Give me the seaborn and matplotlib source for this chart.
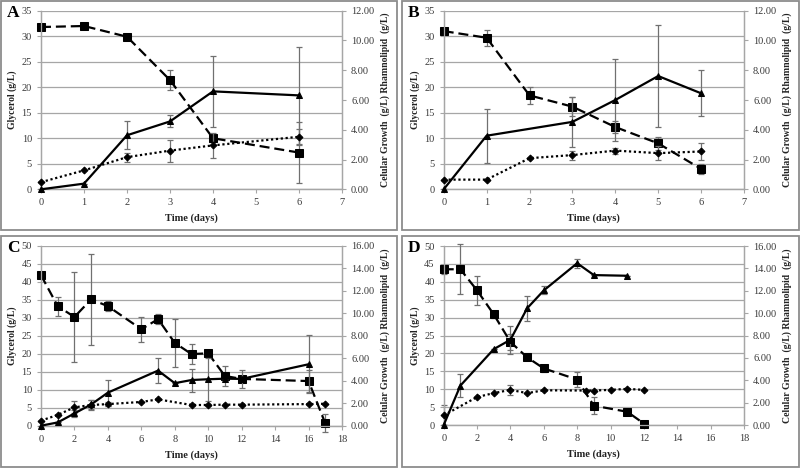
import numpy as np
import pandas as pd
import seaborn as sns
import matplotlib.pyplot as plt
from matplotlib.patches import Rectangle
from matplotlib.ticker import FormatStrFormatter, MultipleLocator

# === Panel A ===
a_gly_days = [0, 1, 2, 3, 4, 6]
a_gly = [31.8, 32.0, 29.9, 21.4, 10.0, 7.2]
a_gly_err = [0, 0, 0, 2.0, 0.8, 6.0]
a_tri_days = [0, 1, 2, 3, 4, 6]
a_tri = [0.0, 0.38, 3.63, 4.56, 6.58, 6.31]
a_tri_err = [0, 0, 0.93, 0.40, 2.40, 3.25]
a_dia_days = [0, 1, 2, 3, 4, 6]
a_dia = [0.48, 1.27, 2.16, 2.60, 2.95, 3.53]
a_dia_err = [0, 0, 0.30, 0.74, 0.84, 0.55]

# === Panel B ===
b_gly_days = [0, 1, 2, 3, 4, 5, 6]
b_gly = [31.0, 29.7, 18.4, 16.2, 12.2, 9.0, 4.0]
b_gly_err = [0.5, 1.6, 1.7, 1.9, 1.2, 1.3, 1.0]
b_tri_days = [0, 1, 3, 4, 5, 6]
b_tri = [0.0, 3.60, 4.53, 6.00, 7.61, 6.45]
b_tri_err = [0, 1.82, 1.68, 2.78, 3.43, 1.54]
b_dia_days = [0, 1, 2, 3, 4, 5, 6]
b_dia = [0.65, 0.65, 2.09, 2.30, 2.60, 2.43, 2.54]
b_dia_err = [0, 0, 0, 0.30, 0.20, 0.45, 0.60]

# === Panel C ===
c_gly_days = [0, 1, 2, 3, 4, 6, 7, 8, 9, 10, 11, 12, 16, 17]
c_gly = [41.8, 33.2, 30.2, 35.1, 33.2, 26.8, 29.6, 23.0, 19.9, 20.1, 13.8, 13.0, 12.4, 0.65]
c_gly_err = [0, 2.6, 12.6, 12.6, 1.3, 3.5, 1.3, 6.6, 2.85, 0, 2.7, 0, 3.0, 2.5]
c_tri_days = [0, 1, 2, 3, 4, 7, 8, 9, 10, 11, 12, 16]
c_tri = [0.0, 0.29, 1.09, 1.89, 2.94, 4.90, 3.78, 4.06, 4.13, 4.18, 4.16, 5.46]
c_tri_err = [0, 0, 0.30, 0.40, 1.15, 1.12, 0, 1.02, 1.90, 0, 0.77, 2.56]
c_dia_days = [0, 1, 2, 3, 4, 6, 7, 9, 10, 11, 12, 16, 17]
c_dia = [0.45, 0.96, 1.63, 1.84, 1.92, 2.11, 2.34, 1.84, 1.84, 1.87, 1.87, 1.92, 1.95]
c_dia_err = [0, 0, 0.54, 0.42, 0.16, 0, 0, 0.10, 0.10, 0, 0.10, 0, 0]

# === Panel D ===
d_gly_days = [0, 1, 2, 3, 4, 5, 6, 8, 9, 11, 12]
d_gly = [43.5, 43.5, 37.6, 30.9, 23.2, 18.9, 15.8, 12.7, 5.4, 3.7, 0.4]
d_gly_err = [1.2, 7.0, 4.0, 1.0, 2.3, 0, 1.0, 2.2, 2.3, 0, 0]
d_tri_days = [0, 1, 3, 4, 5, 6, 8, 9, 11]
d_tri = [0.0, 3.52, 6.78, 7.62, 10.43, 12.03, 14.46, 13.40, 13.34]
d_tri_err = [0, 1.06, 0, 1.25, 1.12, 0.35, 0.42, 0, 0]
d_dia_days = [0, 2, 3, 4, 5, 6, 8.5, 9, 10, 11, 12]
d_dia = [0.86, 2.50, 2.85, 3.14, 2.85, 3.10, 3.08, 3.08, 3.14, 3.23, 3.14]
d_dia_err = [0.90, 0, 0, 0.45, 0, 0, 0, 0, 0, 0, 0]

panels = [
    ("A", (a_gly_days, a_gly, a_gly_err), (a_tri_days, a_tri, a_tri_err), (a_dia_days, a_dia, a_dia_err), 7, 35, 12),
    ("B", (b_gly_days, b_gly, b_gly_err), (b_tri_days, b_tri, b_tri_err), (b_dia_days, b_dia, b_dia_err), 7, 35, 12),
    ("C", (c_gly_days, c_gly, c_gly_err), (c_tri_days, c_tri, c_tri_err), (c_dia_days, c_dia, c_dia_err), 18, 50, 16),
    ("D", (d_gly_days, d_gly, d_gly_err), (d_tri_days, d_tri, d_tri_err), (d_dia_days, d_dia, d_dia_err), 18, 50, 16),
]

sns.set_theme(style="white")
plt.rcParams['font.family'] = ['Liberation Serif', 'DejaVu Serif']

W, H = 800, 469
fig = plt.figure(figsize=(8, 4.69), dpi=100)
fig.patch.set_facecolor("white")

# panel frames (px) and plot areas (px)
frames = [(1, 1, 397, 230), (402, 1, 799, 230), (1, 236, 397, 467), (402, 236, 799, 467)]
areas = [(41, 10.7, 342, 189.3), (443.7, 10.7, 744, 189.3), (41, 245.7, 342, 425.7), (443.7, 246, 744, 425)]

GRID = "#a6a6a6"
TXT = "#3a3a3a"
ERR = "#707070"


def draw_series(ax, data, marker, ms, ls):
    days, vals, err = data
    df = pd.DataFrame({"day": days, "val": vals, "err": err})
    ax.errorbar(df["day"], df["val"], yerr=df["err"], fmt="none", ecolor=ERR,
                elinewidth=0.9, capsize=2, capthick=0.9, zorder=2, clip_on=False)
    sns.lineplot(data=df, x="day", y="val", ax=ax, color="black", marker=marker,
                 markersize=ms, markeredgecolor="black", linestyle=ls, linewidth=1.6,
                 errorbar=None, sort=False, zorder=3, clip_on=False)


for (letter, gly, tri, dia, xmax, ymax, rmax), fr, ar in zip(panels, frames, areas):
    x0, y0, x1, y1 = fr
    fig.patches.append(Rectangle((x0 / W, 1 - y1 / H), (x1 - x0) / W, (y1 - y0) / H,
                                 transform=fig.transFigure, fill=False,
                                 edgecolor="#8c8c8c", linewidth=1.3))
    l, t, r, b = ar
    ax = fig.add_axes([l / W, 1 - b / H, (r - l) / W, (b - t) / H])
    ax2 = ax.twinx()

    draw_series(ax, gly, "s", 5.5, (0, (4.5, 2.2)))
    draw_series(ax2, tri, "^", 5, "-")
    draw_series(ax2, dia, "D", 3.5, (0, (1, 1.2)))

    ax.set_xlim(0, xmax)
    ax.set_ylim(0, ymax)
    ax2.set_ylim(0, rmax)
    ax.xaxis.set_major_locator(MultipleLocator(1 if xmax == 7 else 2))
    ax.yaxis.set_major_locator(MultipleLocator(5))
    ax2.yaxis.set_major_locator(MultipleLocator(2))
    ax2.yaxis.set_major_formatter(FormatStrFormatter("%.2f"))

    ax.yaxis.grid(True, color=GRID, linewidth=0.9)
    ax.xaxis.grid(False)
    ax2.grid(False)
    for a in (ax, ax2):
        for s in a.spines.values():
            s.set_color(GRID)
            s.set_linewidth(0.9)
        a.spines["top"].set_visible(False)
        a.tick_params(colors=GRID, labelcolor=TXT, labelsize=7.5, length=3, width=0.8,
                      direction="out")
    ax.tick_params(axis="x", bottom=True)
    ax.tick_params(axis="y", left=True)
    ax2.tick_params(axis="y", right=True)

    ax.set_xlabel("Time (days)", fontsize=7.5, fontweight="bold", color="#222222")
    ax.xaxis.set_label_coords(0.5, -0.135)
    ax.set_ylabel("Glycerol (g/L)", fontsize=7, fontweight="bold", color="#222222")
    ax.yaxis.set_label_coords(-0.08, 0.5)
    ax2.set_ylabel("Celular Growth  (g/L) Rhamnolipid  (g/L)", fontsize=7,
                   fontweight="bold", color="#222222", rotation=90)
    ax2.yaxis.set_label_coords(1.128, 0.5)

    fig.text((x0 + 6) / W, 1 - (y0 + 12) / H, letter, fontsize=12.5, fontweight="bold",
             color="black", va="center", ha="left")

fig.savefig("out.png", dpi=100, facecolor="white")
plt.close(fig)
